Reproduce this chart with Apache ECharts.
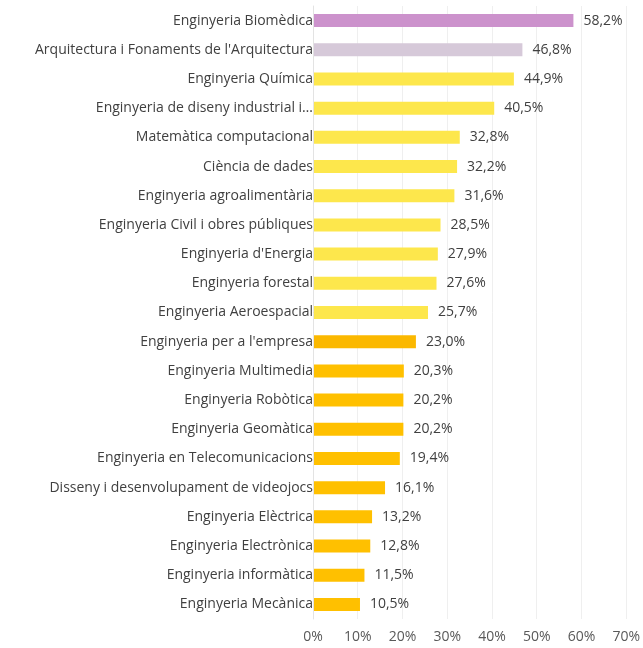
<!DOCTYPE html>
<html>
<head>
<meta charset="utf-8">
<script src="https://cdn.jsdelivr.net/npm/echarts@6/dist/echarts.min.js"></script>
<style>
  html, body { margin: 0; padding: 0; background: #ffffff; }
  #chart { width: 643px; height: 648px; }
</style>
</head>
<body>
<div id="chart"></div>
<script>
// Degree programmes, listed top to bottom
const categories = [
  "Enginyeria Biomèdica",
  "Arquitectura i Fonaments de l'Arquitectura",
  "Enginyeria Química",
  "Enginyeria de diseny industrial i…",
  "Matemàtica computacional",
  "Ciència de dades",
  "Enginyeria agroalimentària",
  "Enginyeria Civil i obres públiques",
  "Enginyeria d'Energia",
  "Enginyeria forestal",
  "Enginyeria Aeroespacial",
  "Enginyeria per a l'empresa",
  "Enginyeria Multimedia",
  "Enginyeria Robòtica",
  "Enginyeria Geomàtica",
  "Enginyeria en Telecomunicacions",
  "Disseny i desenvolupament de videojocs",
  "Enginyeria Elèctrica",
  "Enginyeria Electrònica",
  "Enginyeria informàtica",
  "Enginyeria Mecànica"
];

// Percentage per programme
const values = [58.2, 46.8, 44.9, 40.5, 32.8, 32.2, 31.6, 28.5, 27.9, 27.6, 25.7,
                23.0, 20.3, 20.2, 20.2, 19.4, 16.1, 13.2, 12.8, 11.5, 10.5];

// Value-axis ticks (percent)
const xTicks = [0, 10, 20, 30, 40, 50, 60, 70];

function pct(v) {
  return v.toFixed(1).replace('.', ',') + '%';
}

function barColor(idx, v) {
  if (idx === 0) return '#cc92cc';
  if (idx === 1) return '#d6c9d9';
  if (v >= 25) return '#fde74c';
  if (idx === 11) return '#fbb800';
  return '#ffc000';
}

const chart = echarts.init(document.getElementById('chart'), null, { renderer: 'canvas' });

chart.setOption({
  animation: false,
  backgroundColor: '#ffffff',
  textStyle: { fontFamily: 'Open Sans' },
  grid: { left: 313, right: 15, top: 6, bottom: 29, containLabel: false },
  xAxis: {
    type: 'value',
    min: xTicks[0],
    max: xTicks[xTicks.length - 1],
    interval: 10,
    axisLine: { show: false },
    axisTick: { show: false },
    splitLine: { show: true, lineStyle: { color: '#efefef', width: 1 } },
    axisLabel: {
      color: '#595959',
      fontSize: 14,
      margin: 11,
      formatter: v => v + '%'
    }
  },
  yAxis: {
    type: 'category',
    inverse: true,
    data: categories,
    axisLine: { show: true, lineStyle: { color: '#e3e3e3', width: 1 } },
    axisTick: { show: false },
    axisLabel: {
      color: '#404040',
      fontSize: 14,
      margin: 0,
      align: 'right'
    },
    z: 10
  },
  series: [{
    type: 'bar',
    data: values.map((v, i) => ({ value: v, itemStyle: { color: barColor(i, v) } })),
    barWidth: 13,
    z: 2,
    label: {
      show: true,
      position: 'right',
      distance: 10,
      color: '#404040',
      fontSize: 14,
      formatter: p => pct(p.value)
    }
  }]
});
</script>
</body>
</html>
